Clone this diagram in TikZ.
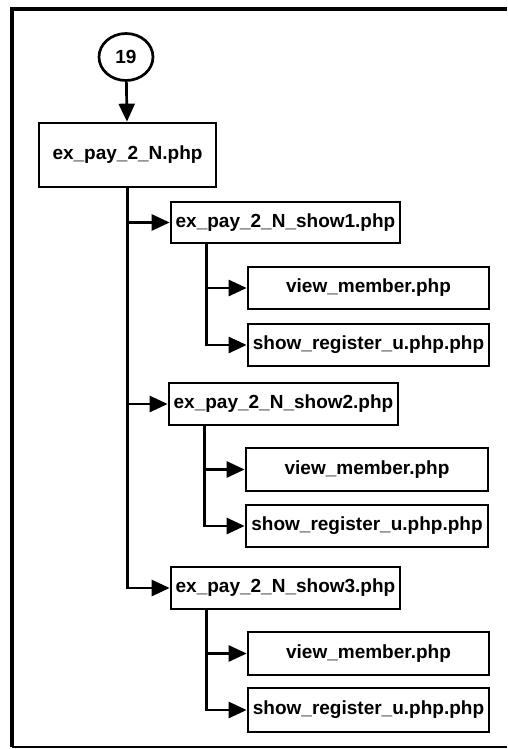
\documentclass[tikz,border=0pt]{standalone}
\usepackage{fontspec}
\setmainfont{Liberation Sans}
\usetikzlibrary{arrows.meta,shapes.geometric}
\begin{document}
\begin{tikzpicture}[x=1pt,y=-1pt,
  box/.style={draw=black,line width=2.7pt,rectangle,inner sep=0pt,
    font=\bfseries\fontsize{19}{22}\selectfont,text=black},
  wbox/.style={box,minimum width=229pt,minimum height=42pt},
  lbox/.style={box,minimum width=241pt,minimum height=42pt},
  link/.style={line width=2.7pt,-{Triangle[length=18pt,width=16pt]}},
  trunk/.style={line width=2.7pt}]
\useasboundingbox (0,0) rectangle (507,749);
\fill[white] (0,0) rectangle (507,749);
% frame
\draw[line width=3.5pt] (12,747) -- (12,9) -- (507,9);
\draw[line width=2pt] (12,747) -- (507,747);
% nodes
\node[box,ellipse,minimum width=54pt,minimum height=47pt] (n19) at (126,57) {19};
\node[box,minimum width=177pt,minimum height=64pt] (main) at (127.5,155) {ex\_pay\_2\_N.php};
\node[wbox,minimum height=41pt] (s1) at (285.5,222.5) {ex\_pay\_2\_N\_show1.php};
\node[lbox] (v1) at (368.5,288) {view\_member.php};
\node[lbox] (r1) at (368.5,345) {show\_register\_u.php.php};
\node[wbox] (s2) at (283.5,404) {ex\_pay\_2\_N\_show2.php};
\node[lbox,minimum width=242pt,minimum height=43pt] (v2) at (367,469.5) {view\_member.php};
\node[lbox,minimum width=242pt] (r2) at (367,526) {show\_register\_u.php.php};
\node[wbox] (s3) at (285.5,588) {ex\_pay\_2\_N\_show3.php};
\node[lbox,minimum height=43pt] (v3) at (368.5,653.5) {view\_member.php};
\node[lbox,minimum height=44pt] (r3) at (368.5,710) {show\_register\_u.php.php};
% connectors
\draw[link] (n19) -- (main);
\draw[link] (main.south) |- (s3.west);
\draw[link] (main.south |- s1.west) -- (s1.west);
\draw[link] (main.south |- s2.west) -- (s2.west);
\coordinate (t1) at ([xshift=37pt]s1.south west);
\coordinate (t2) at ([xshift=37pt]s2.south west);
\coordinate (t3) at ([xshift=37pt]s3.south west);
\draw[link] (t1) |- (r1.west);
\draw[link] (t1 |- v1.west) -- (v1.west);
\draw[link] (t2) |- (r2.west);
\draw[link] (t2 |- v2.west) -- (v2.west);
\draw[link] (t3) |- (r3.west);
\draw[link] (t3 |- v3.west) -- (v3.west);
\end{tikzpicture}
\end{document}
